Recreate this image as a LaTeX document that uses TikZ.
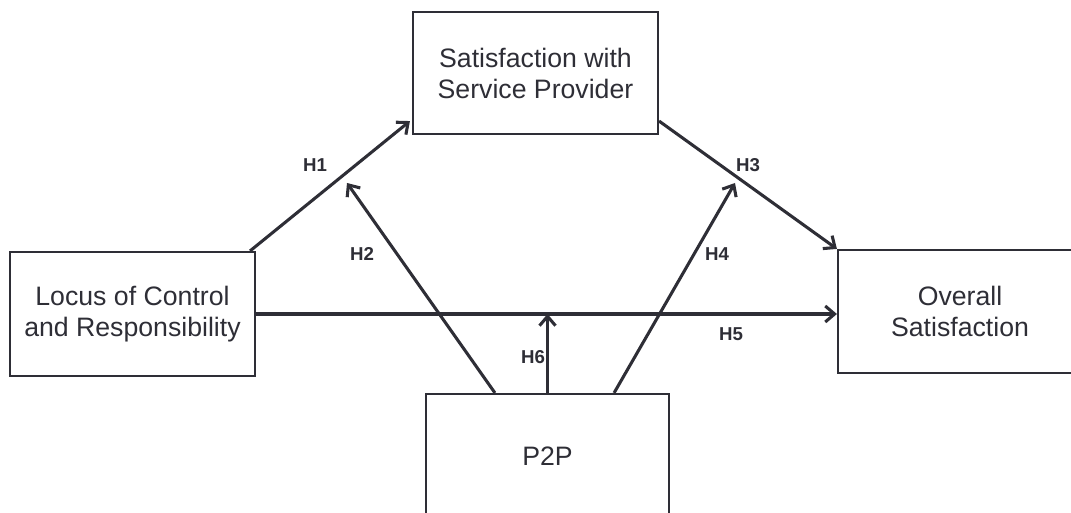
\documentclass[tikz,border=0pt]{standalone}
\usepackage{fontspec}
\setmainfont{Liberation Sans}
\usetikzlibrary{calc,arrows.meta}
\definecolor{ink}{RGB}{46,46,54}
\begin{document}
\begin{tikzpicture}[x=0.75pt,y=0.75pt,
    box/.style={draw=ink,line width=1.6pt,inner sep=0pt,align=center,text=ink,
        font=\fontsize{20}{23.25}\selectfont},
    path/.style={draw=ink,line width=2.3pt,-{Straight Barb[length=7pt,width=12pt]}},
    hyp/.style={text=ink,font=\fontsize{14}{16}\selectfont\bfseries}]
            \useasboundingbox (0,0) rectangle (1071,513);
            \clip (0,0) rectangle (1071,513);
            \node[box,minimum width=183.75pt,minimum height=91.5pt] (sat) at (535.5,440) {Satisfaction with\\Service Provider};
            \node[box,minimum width=183.75pt,minimum height=93pt] (locus) at (132.5,199) {Locus of Control\\and Responsibility};
            \node[box,minimum width=183pt,minimum height=92.25pt] (overall) at (960,201.5) {Overall\\Satisfaction};
            \node[box,minimum width=182.25pt,minimum height=93pt] (p2p) at (547.5,57) {P2P};
            \coordinate (h2tip) at (347,330);
            \coordinate (h4tip) at (735,330);
            \draw[path] ($(locus.north east)+(-6,0)$)--($(sat.south west)+(-2,14)$);
            \draw[path] ($(p2p.north west)+(70,0)$)--(h2tip);
            \draw[path] ($(sat.south east)+(0,14)$)--(overall.north west);
            \draw[path] ($(p2p.north east)+(-56,0)$)--(h4tip);
            \draw[path] (locus.east)--(locus.east -| overall.west);
            \draw[path] (p2p.north)--(p2p.north |- locus.east);
            \node[hyp] (h1) at (315,348) {H1};
            \node[hyp] (h2) at (362,259) {H2};
            \node[hyp] (h3) at (748,348) {H3};
            \node[hyp] (h4) at (717,259) {H4};
            \node[hyp] (h5) at (731,179) {H5};
            \node[hyp] (h6) at (533,156) {H6};
    \end{tikzpicture}
\end{document}
